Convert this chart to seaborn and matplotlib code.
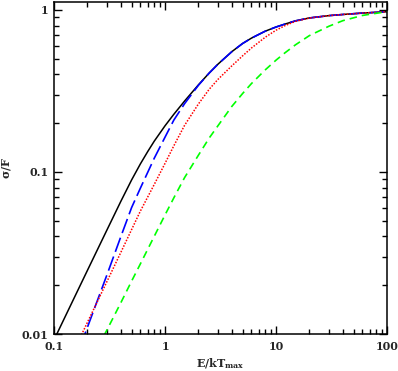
import numpy as np
import pandas as pd
import seaborn as sns
import matplotlib
matplotlib.use("Agg")
import matplotlib.pyplot as plt
from matplotlib.ticker import LogLocator, NullFormatter

# values (log-log axes)
x_black = [0.1, 0.15, 0.2, 0.3, 0.4, 0.5, 0.6, 0.7, 0.8, 1, 1.2, 1.5, 2, 2.5, 3, 4, 5, 6,
           8, 10, 12, 15, 20, 30, 40, 60, 100]
y_black = [0.0092, 0.0164, 0.0247, 0.0439, 0.0659, 0.0893, 0.1122, 0.134, 0.155, 0.1928,
           0.227, 0.274, 0.345, 0.408, 0.463, 0.553, 0.621, 0.67, 0.74, 0.785,
           0.818, 0.857, 0.893, 0.923, 0.938, 0.957, 0.975]

x_blue = [0.15, 0.2, 0.3, 0.4, 0.5, 0.6, 0.8, 1, 1.2, 1.5, 2, 2.5, 3, 4, 5, 6,
          8, 10, 12, 15, 20, 30, 40, 60, 100]
y_blue = [0.0065, 0.011, 0.0232, 0.0399, 0.0603, 0.0795, 0.1216, 0.164, 0.209,
          0.264, 0.343, 0.408, 0.463, 0.553, 0.621, 0.67, 0.74, 0.785,
          0.818, 0.857, 0.893, 0.923, 0.938, 0.957, 0.975]

x_red = [0.15, 0.2, 0.3, 0.4, 0.5, 0.6, 0.8, 1, 1.2, 1.5, 2, 2.5, 3, 4, 5, 6,
         8, 10, 12, 15, 20, 30, 40, 60, 100]
y_red = [0.0078, 0.0118, 0.0211, 0.0319, 0.0441, 0.0574, 0.0838, 0.113, 0.145,
         0.194, 0.263, 0.324, 0.373, 0.452, 0.521, 0.582, 0.679, 0.75, 0.80,
         0.851, 0.892, 0.923, 0.938, 0.957, 0.975]

x_green = [0.25, 0.3, 0.4, 0.5, 0.6, 0.8, 1, 1.2, 1.5, 2, 2.5, 3, 4, 5, 6,
           8, 10, 12, 15, 20, 30, 40, 60, 100]
y_green = [0.0083, 0.0106, 0.0156, 0.0212, 0.0271, 0.0401, 0.0543, 0.0692, 0.0923,
           0.127, 0.162, 0.193, 0.254, 0.305, 0.351, 0.427, 0.49, 0.543, 0.61,
           0.695, 0.794, 0.859, 0.925, 0.977]

xticks = [0.1, 1, 10, 100]
xtick_labels = ["0.1", "1", "10", "100"]
yticks = [0.01, 0.1, 1]
ytick_labels = ["0.01", "0.1", "1"]

sns.set_style("ticks")
plt.rcParams["font.family"] = ["DejaVu Serif"]
plt.rcParams["font.weight"] = "bold"
plt.rcParams["axes.labelweight"] = "bold"
plt.rcParams["mathtext.fontset"] = "dejavuserif"
plt.rcParams["mathtext.default"] = "bf"

fig = plt.figure(figsize=(3.98, 3.71), dpi=100)
ax = fig.add_axes([0.1357, 0.0997, 0.8367, 0.8949])

curves = [
    (x_black, y_black, "black", "-", 1.1),
    (x_blue, y_blue, "#0000ff", (0, (9, 3)), 1.2),
    (x_red, y_red, "#ff0000", (0, (1, 1)), 1.1),
    (x_green, y_green, "#00ff00", (0, (4.5, 3)), 1.2),
]
for xs, ys, col, ls, lw in curves:
    df = pd.DataFrame({"x": xs, "y": ys})
    sns.lineplot(data=df, x="x", y="y", color=col, linestyle=ls, lw=lw, ax=ax)

ax.set_xscale("log")
ax.set_yscale("log")
ax.set_xlim(0.1, 100)
ax.set_ylim(0.01, 1.12)

ax.set_xticks(xticks)
ax.set_xticklabels(xtick_labels)
ax.set_yticks(yticks)
ax.set_yticklabels(ytick_labels)
ax.xaxis.set_minor_locator(LogLocator(base=10, subs=np.arange(2, 10)))
ax.yaxis.set_minor_locator(LogLocator(base=10, subs=np.arange(2, 10)))
ax.xaxis.set_minor_formatter(NullFormatter())
ax.yaxis.set_minor_formatter(NullFormatter())

ax.tick_params(which="both", direction="in", top=True, right=True,
               width=1.0, labelsize=8, color="black")
ax.tick_params(which="major", length=6)
ax.tick_params(which="minor", length=3.5)
ax.tick_params(axis="x", pad=5)
ax.tick_params(axis="y", pad=4)
for s in ax.spines.values():
    s.set_linewidth(1.1)
    s.set_color("black")

ax.set_xlabel(r"E/kT$_{\mathregular{max}}$", fontsize=8, labelpad=3)
ax.set_ylabel(r"$\sigma$/F", fontsize=8, labelpad=6)

fig.savefig("out.png", dpi=100)
